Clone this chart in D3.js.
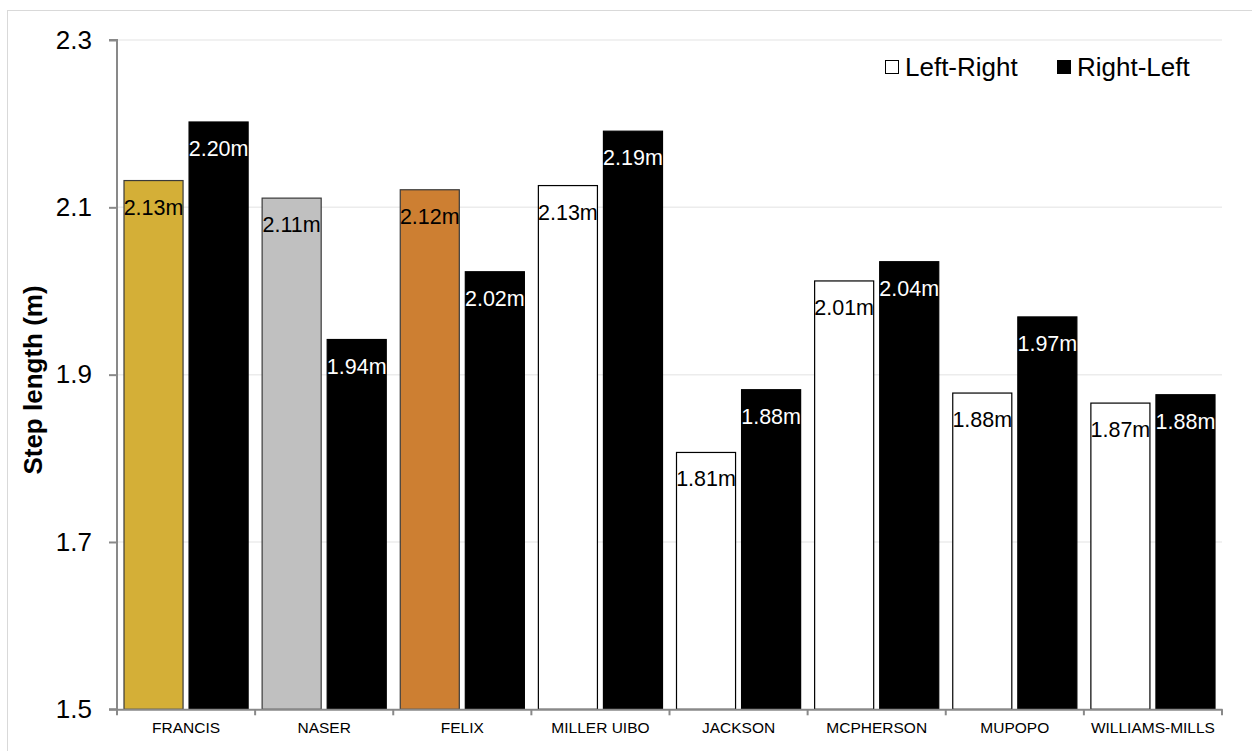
<!DOCTYPE html>
<html><head><meta charset="utf-8">
<script src="https://cdn.jsdelivr.net/npm/d3@7"></script>
<style>body{margin:0;background:#fff}svg{display:block;font-family:"Liberation Sans",Arial,sans-serif}</style>
</head><body><svg id="c" width="1252" height="751"></svg>
<script>
const categories = ["FRANCIS","NASER","FELIX","MILLER UIBO","JACKSON","MCPHERSON","MUPOPO","WILLIAMS-MILLS"];
const leftRight = [2.132,2.111,2.121,2.126,1.807,2.012,1.878,1.866];
const rightLeft = [2.202,1.942,2.023,2.191,1.882,2.035,1.969,1.876];
const leftRightLabels = ["2.13m","2.11m","2.12m","2.13m","1.81m","2.01m","1.88m","1.87m"];
const rightLeftLabels = ["2.20m","1.94m","2.02m","2.19m","1.88m","2.04m","1.97m","1.88m"];
const leftFills = ["#D4AF37","#C0C0C0","#CD7F32","#FFFFFF","#FFFFFF","#FFFFFF","#FFFFFF","#FFFFFF"];
const series = ["Left-Right","Right-Left"];
const yTicks = [1.5,1.7,1.9,2.1,2.3];

const svg = d3.select("#c");
const L=117, R=1222, T=40, B=709.3;
svg.append("rect").attr("x",7.5).attr("y",10.5).attr("width",1300).attr("height",800)
  .attr("fill","none").attr("stroke","#d9d9d9").attr("stroke-width",1);

const y = d3.scaleLinear().domain([1.5,2.3]).range([B,T]);
const x = d3.scaleBand().domain(categories).range([L,R]).padding(0);
const xs = d3.scaleBand().domain(series).range([7,x.bandwidth()-7]).paddingInner(0.0923).paddingOuter(0);

// gridlines
svg.append("g").selectAll("line").data(yTicks.slice(1)).join("line")
  .attr("x1",L).attr("x2",R).attr("y1",d=>y(d)).attr("y2",d=>y(d))
  .attr("stroke","#ececec").attr("stroke-width",1.5);

const data = categories.map((c,i)=>({c,i,vals:[
  {s:"Left-Right",v:leftRight[i],lab:leftRightLabels[i],fill:leftFills[i]},
  {s:"Right-Left",v:rightLeft[i],lab:rightLeftLabels[i],fill:"#000"}]}));

const g = svg.append("g").selectAll("g").data(data).join("g")
  .attr("transform",d=>`translate(${x(d.c)},0)`);
g.selectAll("rect").data(d=>d.vals).join("rect")
  .attr("x",d=>xs(d.s)).attr("width",xs.bandwidth())
  .attr("y",d=>y(d.v)).attr("height",d=>y(1.5)-y(d.v))
  .attr("fill",d=>d.fill)
  .attr("stroke",d=>d.s==="Right-Left"?"#000":(d.fill==="#FFFFFF"?"#000":"#3a3a3a"))
  .attr("stroke-width",1.2);
g.selectAll("text").data(d=>d.vals).join("text")
  .attr("x",d=>xs(d.s)+xs.bandwidth()/2).attr("y",d=>y(d.v)+34)
  .attr("text-anchor","middle").attr("font-size",21.5)
  .attr("fill",d=>d.s==="Right-Left"?"#fff":"#000")
  .text(d=>d.lab);

// y axis
const ya = svg.append("g").attr("transform",`translate(${L},0)`)
  .call(d3.axisLeft(y).tickValues(yTicks).tickSize(8).tickPadding(17).tickFormat(d3.format(".1f")));
ya.select(".domain").attr("stroke","#898989").attr("stroke-width",2).attr("d",`M-8,${T}H0V${B}H-8`);
ya.selectAll(".tick line").attr("stroke","#898989").attr("stroke-width",2);
ya.selectAll(".tick text").attr("font-size",26).attr("fill","#000").attr("font-family","Liberation Sans, Arial, sans-serif");

// x axis
const xa = svg.append("g").attr("transform",`translate(0,${B})`)
  .call(d3.axisBottom(x).tickSize(0).tickPadding(13));
xa.select(".domain").attr("stroke","#898989").attr("stroke-width",2);
xa.selectAll(".tick text").attr("font-size",15.5).attr("fill","#000").attr("font-family","Liberation Sans, Arial, sans-serif");
svg.append("g").selectAll("line").data(categories.concat(["__end"])).join("line")
  .attr("x1",(d,i)=>i<categories.length?x(d):R).attr("x2",(d,i)=>i<categories.length?x(d):R)
  .attr("y1",B).attr("y2",B+6).attr("stroke","#898989").attr("stroke-width",2);

// y title
svg.append("text").attr("transform","translate(42,380) rotate(-90)")
  .attr("text-anchor","middle").attr("font-size",26).attr("font-weight","bold").text("Step length (m)");

// legend
const leg = [{s:"Left-Right",fill:"#fff",x:885},{s:"Right-Left",fill:"#000",x:1057}];
const lg = svg.append("g").selectAll("g").data(leg).join("g");
lg.append("rect").attr("x",d=>d.x+0.5).attr("y",60.5).attr("width",13).attr("height",13)
  .attr("fill",d=>d.fill).attr("stroke","#000").attr("stroke-width",1);
lg.append("text").attr("x",d=>d.x+20).attr("y",76).attr("font-size",26).text(d=>d.s);
</script></body></html>
